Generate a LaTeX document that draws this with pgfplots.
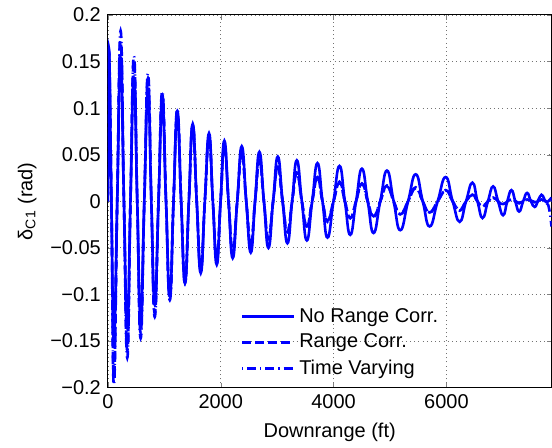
\documentclass[border=0pt]{standalone}
\usepackage{fontspec}
\setmainfont{Liberation Sans}
\usepackage{pgfplots}
\pgfplotsset{compat=1.18}
\usepackage{pgfplotstable}

\definecolor{mblue}{RGB}{0,0,255}

% No Range Corr.
\pgfplotstableread{
x y
0 0
18 0.161
62 0
106 -0.151
165 0
225 0.154
284 0
343 -0.136
400 0
461 0.132
520 0
580 -0.124
645 0
710 0.118
770 0
830 -0.111
897 0
964 0.104
1030 0
1097 -0.102
1163 0
1230 0.093
1298 0
1366 -0.087
1435 0
1503 0.083
1574 0
1645 -0.077
1718 0
1792 0.073
1860 0
1929 -0.068
1997 0
2064 0.065
2138 0
2212 -0.061
2292 0
2372 0.059
2452 0
2532 -0.055
2608 0
2685 0.053
2765 0
2845 -0.050
2928 0
3011 0.048
3096 0
3182 -0.045
3265 0
3348 0.044
3437 0
3526 -0.042
3620 0
3714 0.041
3803 0
3892 -0.039
3998 0
4105 0.038
4200 0
4295 -0.036
4398 0
4502 0.035
4605 0
4708 -0.034
4827 0
4946 0.033
5064 0
5182 -0.031
5320 0
5455 0.029
5580 0
5702 -0.027
5844 0
5986 0.026
6110 0
6234 -0.022
6347 0
6460 0.020
6550 0
6640 -0.018
6735 0
6827 0.016
6915 0
7004 -0.015
7078 0
7152 0.012
7220 0
7288 -0.011
7360 0
7430 0.009
7497 0
7565 -0.006
7625 0.001
7684 0.007
7730 0.003
7773 -0.001
7862 0.004
}\norange

% Range Corr.
\pgfplotstableread{
x y
0 0
18 0.163
62 0
106 -0.188
165 0
225 0.172
284 0
343 -0.160
400 0
461 0.150
520 0
580 -0.141
645 0
710 0.132
770 0
830 -0.120
897 0
964 0.114
1030 0
1097 -0.104
1163 0
1230 0.097
1298 0
1366 -0.087
1435 0
1503 0.081
1574 0
1645 -0.073
1718 0
1792 0.068
1860 0
1929 -0.062
1997 0
2064 0.059
2138 0
2212 -0.054
2292 0
2372 0.052
2452 0
2532 -0.047
2608 0
2685 0.044
2765 0
2845 -0.040
2928 0
3011 0.036
3096 0
3182 -0.033
3265 0
3348 0.030
3437 0
3526 -0.027
3620 0
3714 0.025
3803 0
3892 -0.021
3998 0
4105 0.020
4200 0
4295 -0.018
4398 0
4502 0.019
4605 0
4708 -0.017
4827 0
4946 0.017
5064 0
5182 -0.014
5320 0
5455 0.015
5580 0
5702 -0.012
5844 0
5986 0.012
6110 0
6234 -0.010
6347 0
6460 0.007
6550 0
6640 -0.006
6735 0
6827 0.004
6915 0
7004 -0.003
7152 0.002
7288 -0.002
7430 0.002
7565 -0.001
7684 0.002
7773 0
7862 0.001
}\rangecorr

% Time Varying
\pgfplotstableread{
x y
0 0
18 0.164
62 0
106 -0.197
165 0
225 0.183
284 0
343 -0.168
400 0
461 0.156
520 0
580 -0.147
645 0
710 0.137
770 0
830 -0.124
897 0
964 0.118
1030 0
1097 -0.106
1163 0
1230 0.099
1298 0
1366 -0.088
1435 0
1503 0.081
1574 0
1645 -0.073
1718 0
1792 0.068
1860 0
1929 -0.062
1997 0
2064 0.059
2138 0
2212 -0.054
2292 0
2372 0.051
2452 0
2532 -0.047
2608 0
2685 0.044
2765 0
2845 -0.040
2928 0
3011 0.037
3096 0
3182 -0.033
3265 0
3348 0.031
3437 0
3526 -0.027
3620 0
3714 0.026
3803 0
3892 -0.022
3998 0
4105 0.021
4200 0
4295 -0.018
4398 0
4502 0.019
4605 0
4708 -0.016
4827 0
4946 0.016
5064 0
5182 -0.014
5320 0
5455 0.014
5580 0
5702 -0.012
5844 0
5986 0.011
6110 0
6234 -0.009
6347 0
6460 0.007
6550 0
6640 -0.005
6735 0
6827 0.004
6915 0
7004 -0.003
7152 0.002
7288 -0.002
7430 0.002
7565 -0.001
7684 0.001
7773 -0.002
7820 -0.008
7862 -0.027
}\timevar

\begin{document}
\begin{tikzpicture}
\begin{axis}[
    scale only axis,
    width=222pt, height=186.5pt,
    xmin=0, xmax=7862, ymin=-0.2, ymax=0.2,
    xtick={0,2000,4000,6000},
    xticklabels={0,2000,4000,6000},
    ytick={-0.2,-0.15,-0.1,-0.05,0,0.05,0.1,0.15,0.2},
    yticklabels={−0.2,−0.15,−0.1,−0.05,0,0.05,0.1,0.15,0.2},
    tick align=inside,
    major tick length=2.5pt,
    grid=major,
    grid style={black!55, dash pattern=on 0.5pt off 1.6pt},
    axis line style={line width=0.5pt},
    xlabel={Downrange (ft)},
    ylabel={δ\textsubscript{C1} (rad)},
    legend cell align=left,
    legend style={at={(0.285,0.236)}, anchor=north west, draw=none, fill=none,
        row sep=0.5pt},
    legend image code/.code={\draw[#1] (0pt,0pt) -- (26pt,0pt);},
    no markers,
    every axis plot/.append style={mblue, line width=1.3pt, smooth, tension=0.85},
]
\addplot table {\norange};
\addlegendentry{No Range Corr.}
\addplot[dash pattern=on 4.5pt off 2pt] table {\rangecorr};
\addlegendentry{Range Corr.}
\addplot[dash pattern=on 0.6pt off 2pt on 4.5pt off 2pt] table {\timevar};
\addlegendentry{Time Varying}
\end{axis}
\path (current axis.south west) ++(-54pt,-27.5pt) coordinate (bl);
\path (current axis.north east) ++(0pt,7.5pt) coordinate (tr);
\path (bl) rectangle (tr);
\end{tikzpicture}
\end{document}
